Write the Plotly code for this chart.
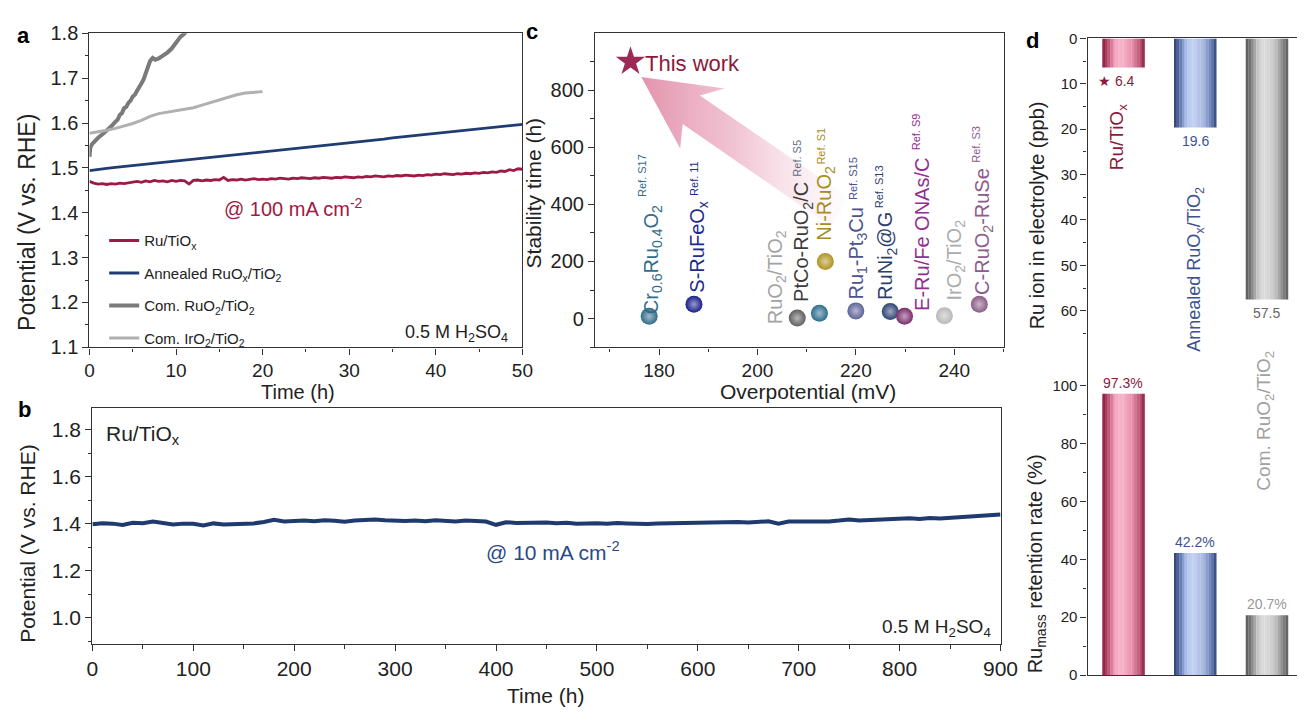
import plotly.graph_objects as go

W, H = 1315, 718
FONT = "Liberation Sans"

# ---------------- Panel a : potential vs time @ 100 mA cm-2 ----------------
A_RU_T = [i / 2 for i in range(101)]
A_RU_V = [1.470, 1.466, 1.464, 1.465, 1.463, 1.465, 1.464, 1.466, 1.465, 1.467,
          1.468, 1.470, 1.468, 1.471, 1.469, 1.472, 1.470, 1.471, 1.469, 1.472,
          1.470, 1.472, 1.471, 1.464, 1.472, 1.473, 1.471, 1.473, 1.472, 1.474,
          1.473, 1.479, 1.472, 1.474, 1.473, 1.475, 1.473, 1.474, 1.476, 1.474,
          1.475, 1.474, 1.476, 1.475, 1.477, 1.476, 1.475, 1.477, 1.476, 1.478,
          1.477, 1.476, 1.478, 1.477, 1.479, 1.478, 1.477, 1.479, 1.478, 1.480,
          1.479, 1.478, 1.480, 1.479, 1.481, 1.480, 1.482, 1.481, 1.480, 1.482,
          1.481, 1.483, 1.482, 1.484, 1.483, 1.482, 1.484, 1.483, 1.485, 1.484,
          1.486, 1.485, 1.487, 1.486, 1.485, 1.487, 1.486, 1.488, 1.487, 1.489,
          1.488, 1.490, 1.489, 1.491, 1.490, 1.493, 1.492, 1.496, 1.494, 1.498,
          1.497]
A_ANN_T = list(range(51))
A_ANN_V = [1.494, 1.497, 1.499, 1.501, 1.503, 1.505, 1.507, 1.509, 1.511, 1.513,
           1.515, 1.517, 1.519, 1.521, 1.523, 1.525, 1.528, 1.530, 1.532, 1.534,
           1.536, 1.538, 1.540, 1.542, 1.544, 1.546, 1.548, 1.550, 1.552, 1.554,
           1.556, 1.558, 1.560, 1.562, 1.564, 1.567, 1.569, 1.571, 1.573, 1.575,
           1.577, 1.579, 1.581, 1.583, 1.585, 1.587, 1.589, 1.591, 1.593, 1.595,
           1.597]
A_RUO2_T = [0, 0.1, 0.3, 0.6, 1.0, 1.5, 2.0, 2.5, 3.0, 3.25, 3.5, 3.75, 4.0, 4.25,
            4.5, 4.75, 5.0, 5.25, 5.5, 5.75, 6.0, 6.25, 6.5, 6.75, 7.0, 7.3, 7.6,
            8.0, 8.5, 9.0, 9.5, 10.0, 10.5, 11.0, 11.5]
A_RUO2_V = [1.525, 1.545, 1.553, 1.560, 1.567, 1.575, 1.583, 1.592, 1.603, 1.607,
            1.618, 1.622, 1.633, 1.636, 1.645, 1.650, 1.659, 1.663, 1.672, 1.679,
            1.688, 1.697, 1.712, 1.722, 1.738, 1.745, 1.741, 1.744, 1.750, 1.757,
            1.766, 1.778, 1.792, 1.800, 1.815]
A_IRO2_T = list(range(21))
A_IRO2_V = [1.577, 1.580, 1.584, 1.588, 1.593, 1.599, 1.606, 1.615, 1.621, 1.624,
            1.627, 1.630, 1.634, 1.640, 1.646, 1.651, 1.657, 1.663, 1.667, 1.669,
            1.670]

# ---------------- Panel b : Ru/TiOx @ 10 mA cm-2 ----------------
B_T = list(range(0, 901, 10))
B_V = [1.398, 1.403, 1.401, 1.395, 1.405, 1.403, 1.410, 1.402, 1.397, 1.401,
       1.400, 1.393, 1.402, 1.397, 1.399, 1.398, 1.402, 1.408, 1.417, 1.410,
       1.412, 1.414, 1.411, 1.415, 1.413, 1.409, 1.414, 1.416, 1.419, 1.415,
       1.413, 1.412, 1.414, 1.411, 1.415, 1.413, 1.410, 1.414, 1.412, 1.410,
       1.396, 1.407, 1.404, 1.405, 1.402, 1.406, 1.403, 1.405, 1.401, 1.404,
       1.403, 1.401, 1.404, 1.402, 1.400, 1.399, 1.402, 1.403, 1.401, 1.404,
       1.405, 1.403, 1.407, 1.406, 1.408, 1.406, 1.409, 1.411, 1.401, 1.410,
       1.410, 1.409, 1.412, 1.410, 1.414, 1.419, 1.414, 1.416, 1.419, 1.418,
       1.421, 1.424, 1.421, 1.425, 1.423, 1.426, 1.425, 1.429, 1.431, 1.434,
       1.440]

# ---------------- Panel c : stability vs overpotential ----------------
C_NAMES = ["Cr<sub>0.6</sub>Ru<sub>0.4</sub>O<sub>2</sub>", "S-RuFeO<sub>x</sub>",
           "RuO<sub>2</sub>/TiO<sub>2</sub>", "PtCo-RuO<sub>2</sub>/C",
           "Ni-RuO<sub>2</sub>", "Ru<sub>1</sub>-Pt<sub>3</sub>Cu",
           "RuNi<sub>2</sub>@G", "E-Ru/Fe ONAs/C",
           "IrO<sub>2</sub>/TiO<sub>2</sub>", "C-RuO<sub>2</sub>-RuSe"]
C_REFS = ["Ref. S17", "Ref. 11", None, "Ref. S5", "Ref. S1", "Ref. S15",
          "Ref. S13", "Ref. S9", None, "Ref. S3"]
C_OVERPOT = [178.0, 187.1, 208.1, 212.6, 213.8, 220.0, 227.0, 229.9, 238.0, 245.1]
C_STAB = [8, 50, 2, 19, 200, 27, 25, 8, 10, 50]
THIS_OVERPOT = [174.2]
THIS_STAB = [900]

# ---------------- Panel d : dissolution / retention ----------------
D_CATS = ["Ru/TiOx", "Annealed RuOx/TiO2", "Com. RuO2/TiO2"]
D_PPB = [6.4, 19.6, 57.5]
D_RET = [97.3, 42.2, 20.7]

# ======================= styling =======================
def xp(px):
    return px / W

def yp(py):
    return 1 - py / H

C_SPHERE = ['#2f6b88', '#1a1f8a', '#5f5f5f', '#2a6c8c', '#b09322',
            '#5d6299', '#2d4472', '#7a2d6c', '#b8b8b8', '#8a5c86']
C_LABEL_COL = ['#2f6d8c', '#1d2a8f', '#a3a3a3', '#3c3c3c', '#a68d1f',
               '#4d5290', '#2b3f70', '#8f2f8f', '#ababab', '#8d5b8d']
C_REF_COL = ['#2f6d8c', '#1d2a8f', None, '#5d6e82', '#a68d1f',
             '#4d5290', '#2b3f70', '#8f2f8f', None, '#8d5b8d']
C_LABEL_PX = [(658, 256), (705, 244), (785, 275), (812, 238), (835, 198),
              (867, 250), (897, 253), (933, 230), (967, 257), (995, 227)]
C_REF_PX = [(648, 170), (700, 173), None, (806, 152), (830, 139),
            (862, 173), (890, 181), (927, 125), None, (988, 137)]


def hex2rgb(h):
    h = h.lstrip('#')
    return [int(h[i:i + 2], 16) for i in (0, 2, 4)]


def mix(hexc, f):
    r, g, b = hex2rgb(hexc)
    return '#%02x%02x%02x' % (int(r + (255 - r) * f), int(g + (255 - g) * f),
                              int(b + (255 - b) * f))


def ramp(stops, t):
    for (p0, c0), (p1, c1) in zip(stops[:-1], stops[1:]):
        if p0 <= t <= p1:
            f = (t - p0) / (p1 - p0)
            a, b = hex2rgb(c0), hex2rgb(c1)
            return '#%02x%02x%02x' % tuple(int(a[i] + (b[i] - a[i]) * f) for i in range(3))
    return stops[-1][1]


BAR_STOPS = [
    [(0, '#8a1c3e'), (0.12, '#b44468'), (0.3, '#f3a5c0'), (0.45, '#f8b6cb'),
     (0.7, '#e891ad'), (0.9, '#b8506f'), (1, '#8e2142')],
    [(0, '#2b3d6d'), (0.12, '#566ca3'), (0.3, '#b3c4ec'), (0.45, '#c4d2f2'),
     (0.7, '#a7b8e2'), (0.9, '#6479b0'), (1, '#2f4274')],
    [(0, '#575757'), (0.12, '#7c7c7c'), (0.3, '#cdcdcd'), (0.45, '#dedede'),
     (0.7, '#c4c4c4'), (0.9, '#808080'), (1, '#5a5a5a')],
]
NS = 16
BAR_W = 0.59

fig = go.Figure()

# ---- panel a traces
fig.add_trace(go.Scatter(x=A_RU_T, y=A_RU_V, mode='lines', name='Ru/TiO<sub>x</sub>',
                         line=dict(color='#9e1a45', width=2.8), legendgroup='g1',
                         xaxis='x', yaxis='y'))
fig.add_trace(go.Scatter(x=A_ANN_T, y=A_ANN_V, mode='lines',
                         name='Annealed RuO<sub>x</sub>/TiO<sub>2</sub>',
                         line=dict(color='#1f3c73', width=2.8), legendgroup='g2',
                         xaxis='x', yaxis='y'))
fig.add_trace(go.Scatter(x=A_RUO2_T, y=A_RUO2_V, mode='lines',
                         name='Com. RuO<sub>2</sub>/TiO<sub>2</sub>',
                         line=dict(color='#7a7a7a', width=4), legendgroup='g3',
                         xaxis='x', yaxis='y'))
fig.add_trace(go.Scatter(x=A_IRO2_T, y=A_IRO2_V, mode='lines',
                         name='Com. IrO<sub>2</sub>/TiO<sub>2</sub>',
                         line=dict(color='#b0b0b0', width=3), legendgroup='g4',
                         xaxis='x', yaxis='y'))

# ---- panel b
fig.add_trace(go.Scatter(x=B_T, y=B_V, mode='lines', showlegend=False,
                         line=dict(color='#1f3a6e', width=4), xaxis='x2', yaxis='y2'))

# ---- panel c: big pink arrow (decoration) drawn first
ARROW_X = [176.4, 193.3, 188.3, 218.5, 215.0, 184.8, 184.3, 176.4]
ARROW_Y = [846, 806, 781, 425, 322, 681, 596, 846]
fig.add_trace(go.Scatter(x=ARROW_X, y=ARROW_Y, mode='lines', fill='toself',
                         line=dict(width=0, color='rgba(0,0,0,0)'),
                         fillgradient=dict(type='horizontal', start=176, stop=219,
                                           colorscale=[[0, 'rgba(222,128,158,0.85)'],
                                                       [0.45, 'rgba(230,150,176,0.55)'],
                                                       [1, 'rgba(242,200,214,0.0)']]),
                         hoverinfo='skip', showlegend=False, xaxis='x3', yaxis='y3'))
fig.add_trace(go.Scatter(x=C_OVERPOT, y=C_STAB, mode='markers', showlegend=False,
                         text=C_NAMES,
                         marker=dict(size=17, color=C_SPHERE, line=dict(width=0),
                                     gradient=dict(type='radial',
                                                   color=[mix(c, 0.55) for c in C_SPHERE])),
                         xaxis='x3', yaxis='y3'))
fig.add_trace(go.Scatter(x=THIS_OVERPOT, y=THIS_STAB, mode='markers', showlegend=False,
                         marker=dict(symbol='star', size=22, color='#9c2a56',
                                     line=dict(width=0)),
                         xaxis='x3', yaxis='y3'))

# ---- panel d: bars (each bar split in vertical slices to mimic the shading)
for k in range(NS):
    t = (k + 0.5) / NS
    cols = [ramp(BAR_STOPS[i], t) for i in range(len(D_CATS))]
    off = -BAR_W / 2 + k * BAR_W / NS
    fig.add_trace(go.Bar(x=D_CATS, y=D_PPB, width=BAR_W / NS + 0.003, offset=off,
                         marker=dict(color=cols, line=dict(width=0)), showlegend=False,
                         xaxis='x4', yaxis='y4'))
    fig.add_trace(go.Bar(x=D_CATS, y=D_RET, width=BAR_W / NS + 0.003, offset=off,
                         marker=dict(color=cols, line=dict(width=0)), showlegend=False,
                         xaxis='x5', yaxis='y5'))

# ======================= axes =======================
def axis(**kw):
    base = dict(showline=True, linecolor='#333', linewidth=1.3, ticks='outside',
                ticklen=6, tickwidth=1.3, tickcolor='#333', showgrid=False,
                zeroline=False, tickfont=dict(family=FONT, color='#222'))
    base.update(kw)
    return base

MINOR = dict(ticks='outside', ticklen=3.5, tickwidth=1.2, tickcolor='#333', showgrid=False)

layout = dict(
    width=W, height=H, margin=dict(l=0, r=0, t=0, b=0),
    paper_bgcolor='white', plot_bgcolor='white', barmode='overlay',
    font=dict(family=FONT, color='#222'),
    # panel a
    xaxis=axis(domain=[xp(85), xp(526)], range=[0, 50], anchor='y', dtick=10,
               mirror=True, tickfont=dict(size=19, family=FONT, color='#222'),
               minor=dict(dtick=5, **MINOR)),
    yaxis=axis(domain=[yp(347), yp(23)], range=[1.1, 1.8], anchor='x', dtick=0.1,
               tickformat='.1f', mirror=True,
               tickfont=dict(size=20, family=FONT, color='#222'),
               minor=dict(dtick=0.05, **MINOR)),
    # panel b
    xaxis2=axis(domain=[xp(88), xp(1013)], range=[0, 900], anchor='y2', dtick=100,
                mirror=True, tickfont=dict(size=21, family=FONT, color='#222'),
                minor=dict(dtick=50, **MINOR)),
    yaxis2=axis(domain=[yp(653), yp(410)], range=[0.889, 1.891], anchor='x2',
                tick0=1.0, dtick=0.2, tickformat='.1f', mirror=True,
                tickfont=dict(size=21, family=FONT, color='#222'),
                minor=dict(dtick=0.1, **MINOR)),
    # panel c
    xaxis3=axis(domain=[xp(600), xp(1017)], range=[167.0, 250.2], anchor='y3',
                tick0=180, dtick=20, mirror=True,
                tickfont=dict(size=19, family=FONT, color='#222'),
                minor=dict(dtick=10, **MINOR)),
    yaxis3=axis(domain=[yp(347), yp(23)], range=[-100.8, 999], anchor='x3',
                tick0=0, dtick=200, mirror=True,
                tickfont=dict(size=20, family=FONT, color='#222'),
                minor=dict(dtick=100, **MINOR)),
    # panel d upper
    xaxis4=axis(domain=[xp(1101.7), 1], range=[-0.5, 2.42], anchor='y4', side='top',
                type='category', ticks='', showticklabels=False),
    yaxis4=axis(domain=[yp(357), yp(28.3)], range=[70.2, 0], anchor='x4',
                tickvals=[0, 10, 20, 30, 40, 50, 60],
                tickfont=dict(size=15, family=FONT, color='#222'),
                minor=dict(tickvals=[5, 15, 25, 35, 45, 55, 65], **MINOR)),
    # panel d lower
    xaxis5=axis(domain=[xp(1101.7), 1], range=[-0.5, 2.42], anchor='y5',
                type='category', ticks='', showticklabels=False),
    yaxis5=axis(domain=[yp(685), yp(357)], range=[0, 110], anchor='x5',
                tickvals=[0, 20, 40, 60, 80, 100],
                tickfont=dict(size=15, family=FONT, color='#222'),
                minor=dict(tickvals=[10, 30, 50, 70, 90], **MINOR)),
    legend=dict(x=xp(100), y=yp(220), xanchor='left', yanchor='top',
                font=dict(size=15, family=FONT, color='#222'),
                bgcolor='rgba(0,0,0,0)', tracegroupgap=10, itemwidth=30),
    showlegend=True,
)
fig.update_layout(**layout)

# ======================= annotations =======================
ann = []


def txt(x, y, text, size, color='#222', angle=0, xanchor='center', yanchor='middle'):
    ann.append(dict(x=xp(x), y=yp(y), xref='paper', yref='paper', text=text,
                    showarrow=False, textangle=angle, xanchor=xanchor, yanchor=yanchor,
                    font=dict(family=FONT, size=size, color=color)))


# panel letters
txt(18, 25, '<b>a</b>', 22, '#000')
txt(19, 411, '<b>b</b>', 22, '#000')
txt(536, 21, '<b>c</b>', 22, '#000')
txt(1046, 30, '<b>d</b>', 22, '#000')

# panel a
txt(22, 218, 'Potential (V vs. RHE)', 23, angle=-90)
txt(297, 393, 'Time (h)', 20)
txt(293, 203, '@ 100 mA cm<sup>-2</sup>', 20, '#9e1a45')
txt(513, 333, '0.5 M H<sub>2</sub>SO<sub>4</sub>', 18, xanchor='right')

# panel b
txt(22, 550, 'Potential (V vs. RHE)', 21, angle=-90)
txt(550, 706, 'Time (h)', 21)
txt(100, 437, 'Ru/TiO<sub>x</sub>', 21, xanchor='left')
txt(557, 557, '@ 10 mA cm<sup>-2</sup>', 21, '#2b4a85')
txt(1005, 637, '0.5 M H<sub>2</sub>SO<sub>4</sub>', 19, xanchor='right')

# panel c
txt(537, 188, 'Stability time (h)', 21, angle=-90)
txt(817, 393, 'Overpotential (mV)', 21)
txt(649, 54, 'This work', 22, '#8b1a3c', xanchor='left')
for i, name in enumerate(C_NAMES):
    lx, ly = C_LABEL_PX[i]
    txt(lx, ly, name, 20, C_LABEL_COL[i], angle=-90)
    if C_REFS[i]:
        rx, ry = C_REF_PX[i]
        txt(rx, ry, C_REFS[i], 11, C_REF_COL[i], angle=-90)

# panel d
txt(1050, 211, 'Ru ion in electrolyte (ppb)', 20, angle=-90)
txt(1050, 570, 'Ru<sub>mass</sub> retention rate (%)', 20, angle=-90)
txt(1133, 130, 'Ru/TiO<sub>x</sub>', 19, '#8b1a3c', angle=-90)
txt(1212, 266, 'Annealed RuO<sub>x</sub>/TiO<sub>2</sub>', 18, '#3d5290', angle=-90)
txt(1282, 423, 'Com. RuO<sub>2</sub>/TiO<sub>2</sub>', 19, '#a0a0a0', angle=-90)

D_VAL_COL = ['#8b1a3c', '#3d5290', '#666666']
D_RET_COL = ['#8b1a3c', '#3d5290', '#999999']
for i, cat in enumerate(D_CATS):
    label = ('★ ' if i == 0 else '') + f'{D_PPB[i]:.1f}'
    ann.append(dict(x=cat, y=D_PPB[i], xref='x4', yref='y4', text=label, showarrow=False,
                    yshift=-14, xshift=(-7 if i == 0 else 0),
                    font=dict(family=FONT, size=14, color=D_VAL_COL[i])))
    ann.append(dict(x=cat, y=D_RET[i], xref='x5', yref='y5', text=f'{D_RET[i]:.1f}%',
                    showarrow=False, yshift=11,
                    font=dict(family=FONT, size=14, color=D_RET_COL[i])))

fig.update_layout(annotations=ann)
fig.write_html("out.html", config={'displayModeBar': False},
               post_script="document.body.style.margin='0';"
                           "document.body.style.padding='0';"
                           "document.body.style.overflow='hidden';")
